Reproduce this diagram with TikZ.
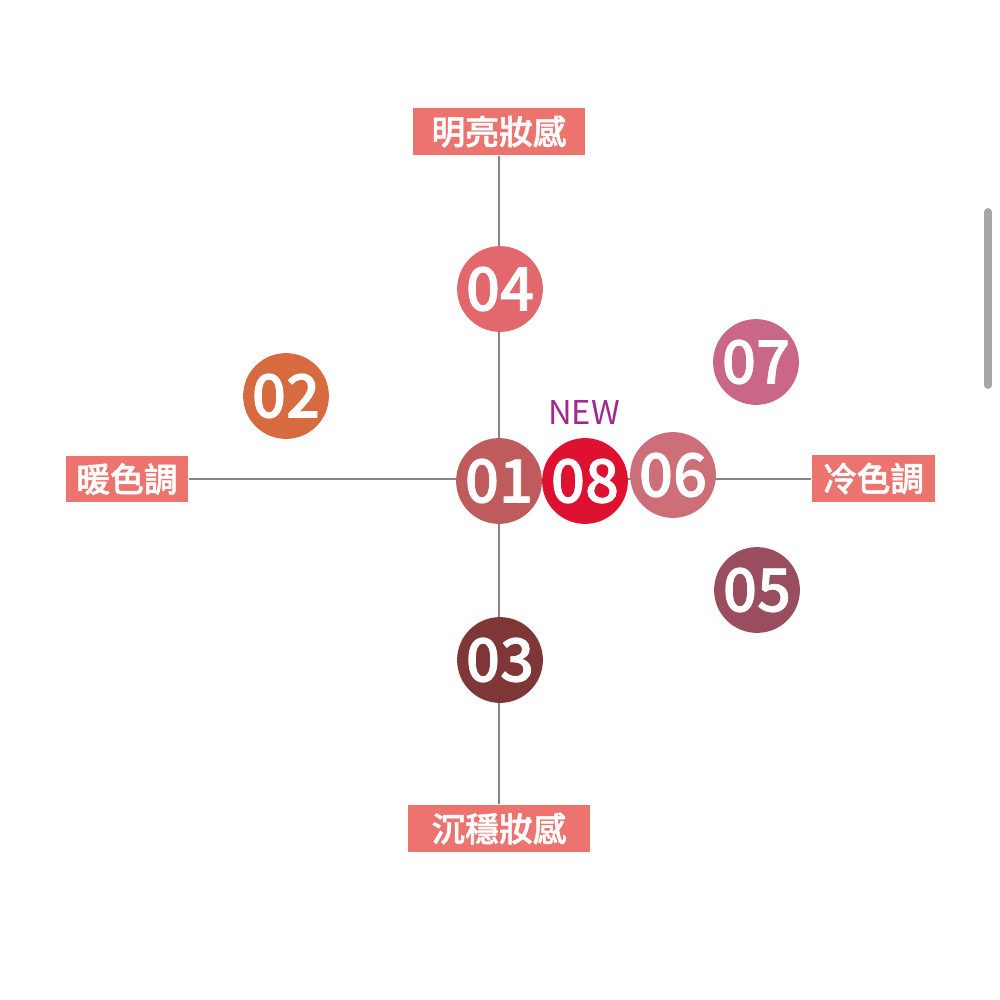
\documentclass[tikz,border=0pt]{standalone}
\usepackage{fontspec}
\newfontfamily\cjk{Noto Sans CJK TC}
\newfontfamily\cjkdig[FakeBold=1.2]{Noto Sans CJK TC Medium}
\newfontfamily\cjklab[FakeBold=1.5]{Noto Sans CJK TC Medium}
\definecolor{labelfill}{HTML}{EC736E}
\definecolor{axisgray}{HTML}{8A8285}
\definecolor{c01}{HTML}{C05B5D}
\definecolor{c02}{HTML}{D86A40}
\definecolor{c03}{HTML}{7E3636}
\definecolor{c04}{HTML}{E2686D}
\definecolor{c05}{HTML}{9A4D5E}
\definecolor{c06}{HTML}{CD6F78}
\definecolor{c07}{HTML}{CA6686}
\definecolor{c08}{HTML}{DF1130}
\definecolor{newcol}{HTML}{A2288C}
\tikzset{
  px/.style={x=0.01cm,y=-0.01cm},
  axislabel/.style={fill=labelfill, text=white, font=\cjklab\fontsize{9.6pt}{11pt}\selectfont, inner xsep=0pt, inner ysep=0pt, anchor=center},
  dot/.style={circle, minimum size=24.4pt, inner sep=0pt, text=white, font=\cjkdig\fontsize{17pt}{18pt}\selectfont},
  axisline/.style={draw=axisgray, line width=0.55pt}
}
\begin{document}
\begin{tikzpicture}[px]
\fill[white] (0,0) rectangle (1000,1000);
\useasboundingbox (0,0) rectangle (1000,1000);
% labels
\node[axislabel, minimum width=172*0.2835pt, minimum height=47*0.2835pt] (top) at (499,131.5) {明亮妝感};
\node[axislabel, minimum width=182*0.2835pt, minimum height=47*0.2835pt] (bottom) at (499,828.5) {沉穩妝感};
\node[axislabel, minimum width=122*0.2835pt, minimum height=46*0.2835pt] (left) at (127,479) {暖色調};
\node[axislabel, minimum width=123*0.2835pt, minimum height=47*0.2835pt] (right) at (873.5,478.5) {冷色調};
\draw[axisline] (top.south) -- (bottom.north);
\draw[axisline] (left.east) -- (left.east -| right.west);
% dots
\node[dot, fill=c04] (d04) at (500,289) {04};
\node[dot, fill=c02] (d02) at (286,396) {02};
\node[dot, fill=c07] (d07) at (756,362) {07};
\node[dot, fill=c01] (d01) at (499,481) {01};
\node[dot, fill=c06] (d06) at (673,475) {06};
\node[dot, fill=c08] (d08) at (585,481) {08};
\node[dot, fill=c05] (d05) at (757,590) {05};
\node[dot, fill=c03] (d03) at (500,660) {03};
\node[text=newcol, font=\cjk\fontsize{9.3pt}{10pt}\selectfont, inner sep=0pt] (new) at (584,413) {NEW};
% scrollbar
\draw[line width=2.2pt, line cap=round, color=black!35] (988,212) -- (988,385);
\end{tikzpicture}
\end{document}
